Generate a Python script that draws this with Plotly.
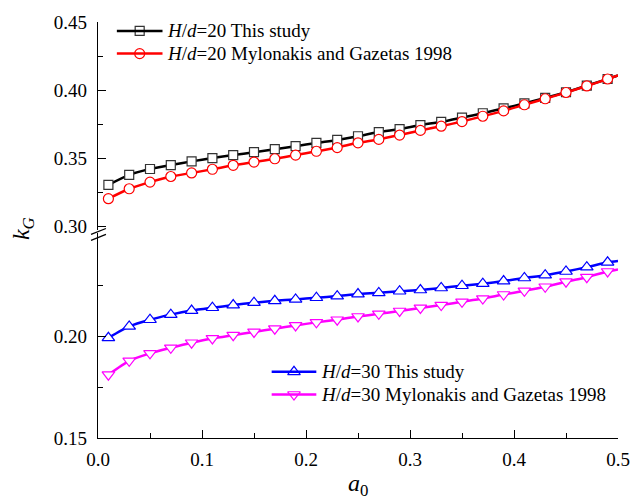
import plotly.graph_objects as go

# ---- data ----
a0 = [0.01, 0.03, 0.05, 0.07, 0.09, 0.11, 0.13, 0.15, 0.17, 0.19, 0.21, 0.23, 0.25,
      0.27, 0.29, 0.31, 0.33, 0.35, 0.37, 0.39, 0.41, 0.43, 0.45, 0.47, 0.49]
a0_end = 0.50

kg_20_study = [0.3306, 0.3379, 0.3422, 0.3451, 0.3478, 0.3502, 0.3524, 0.3545, 0.3567,
               0.3589, 0.3613, 0.3635, 0.3662, 0.3693, 0.3715, 0.3744, 0.3768, 0.3799,
               0.3831, 0.3867, 0.3903, 0.3944, 0.3985, 0.4034, 0.4082]
kg_20_study_end = 0.4109

kg_20_mg = [0.3204, 0.3277, 0.3326, 0.3367, 0.3393, 0.3420, 0.3449, 0.3473, 0.3497,
            0.3524, 0.3552, 0.3579, 0.3614, 0.3639, 0.3671, 0.3705, 0.3736, 0.3770,
            0.3809, 0.3848, 0.3893, 0.3937, 0.3983, 0.4031, 0.4082]
kg_20_mg_end = 0.4109

kg_30_study = [0.1992, 0.2048, 0.2081, 0.2106, 0.2126, 0.2140, 0.2153, 0.2165, 0.2174,
               0.2181, 0.2189, 0.2197, 0.2207, 0.2213, 0.2221, 0.2227, 0.2237, 0.2248,
               0.2258, 0.2271, 0.2286, 0.2300, 0.2318, 0.2339, 0.2363]
kg_30_study_end = 0.2370

kg_30_mg = [0.1811, 0.1879, 0.1916, 0.1943, 0.1968, 0.1989, 0.2005, 0.2021, 0.2037,
            0.2053, 0.2068, 0.2081, 0.2097, 0.2110, 0.2124, 0.2139, 0.2153, 0.2169,
            0.2185, 0.2205, 0.2223, 0.2243, 0.2268, 0.2290, 0.2318]
kg_30_mg_end = 0.2328

names = ["<i>H</i>/<i>d</i>=20 This study",
         "<i>H</i>/<i>d</i>=20 Mylonakis and Gazetas 1998",
         "<i>H</i>/<i>d</i>=30 This study",
         "<i>H</i>/<i>d</i>=30 Mylonakis and Gazetas 1998"]

x_ticks = [0.0, 0.1, 0.2, 0.3, 0.4, 0.5]
y_ticks_upper = [0.30, 0.35, 0.40, 0.45]
y_ticks_lower = [0.15, 0.20]

FONT = "Liberation Serif, Times New Roman, serif"
FS = 19

# pixel geometry helpers (plot area 98..622 x, 17..438 y)
W, H = 642, 503
L, R, T, B = 98, 20, 17, 65
PW, PH = W - L - R, H - T - B


def py(p):
    return (H - B - p) / PH


def px(p):
    return (p - L) / PW


fig = go.Figure()

series = [
    (kg_20_study, kg_20_study_end, "black", "#333333", "square", 9, "y2"),
    (kg_20_mg, kg_20_mg_end, "#ff0000", "#ff0000", "circle", 10, "y2"),
    (kg_30_study, kg_30_study_end, "#0000ff", "#0000ff", "triangle-up", 11, "y"),
    (kg_30_mg, kg_30_mg_end, "#ff00ff", "#ff00ff", "triangle-down", 11, "y"),
]

# legend placement (pixel positions): line start/end, row centre
legend_rows = [(117, 163, 26), (117, 163, 49), (273, 318, 371), (273, 318, 394)]

for (vals, vend, col, mcol, sym, sz, yax), nm, (lx0, lx1, ly) in zip(series, names, legend_rows):
    fig.add_trace(go.Scatter(
        x=a0 + [a0_end], y=vals + [vend],
        mode="lines", name=nm, yaxis=yax, showlegend=False,
        line=dict(color=col, width=2.5, shape="spline", smoothing=0.6),
    ))
    fig.add_trace(go.Scatter(
        x=a0, y=vals,
        mode="markers", name=nm, yaxis=yax, showlegend=False,
        marker=dict(symbol=sym, size=sz, color="white",
                    line=dict(color=mcol, width=1.2)),
    ))
    # manual legend entry
    fig.add_shape(type="line", xref="paper", yref="paper",
                  x0=px(lx0), x1=px(lx1), y0=py(ly), y1=py(ly),
                  line=dict(color=col, width=2.5))
    fig.add_trace(go.Scatter(
        x=[px((lx0 + lx1) / 2)], y=[py(ly)], xaxis="x2", yaxis="y3",
        mode="markers", showlegend=False, hoverinfo="skip",
        marker=dict(symbol=sym, size=sz, color="white", line=dict(color=mcol, width=1.2)),
    ))
    fig.add_annotation(text=nm, xref="paper", yref="paper",
                       x=px(lx1 + 3), y=py(ly), xanchor="left", yanchor="middle",
                       showarrow=False, font=dict(family=FONT, size=FS, color="black"))

axis_common = dict(showline=True, linecolor="black", linewidth=1.3, showgrid=False,
                   zeroline=False, ticks="inside", ticklen=8, tickwidth=1.2,
                   tickcolor="black", tickfont=dict(family=FONT, size=FS, color="black"))

upper_bottom = py(228)
lower_top = py(231)

fig.update_layout(
    width=W, height=H,
    margin=dict(l=L, r=R, t=T, b=B),
    paper_bgcolor="white", plot_bgcolor="rgba(0,0,0,0)",
    font=dict(family=FONT, size=FS, color="black"),
    showlegend=False,
    xaxis=dict(range=[0, 0.5], tickvals=x_ticks, tickformat=".1f", ticklabelstandoff=4,
               minor=dict(ticks="inside", ticklen=5, dtick=0.05, tickcolor="black", tickwidth=1.2),
               anchor="y", **axis_common),
    yaxis=dict(range=[0.15, 0.15 + (438 - 231) / 103 * 0.05], tickvals=y_ticks_lower,
               tickformat=".2f", domain=[0, lower_top], ticklabelstandoff=6,
               minor=dict(ticks="inside", ticklen=5, tickvals=[0.175, 0.225], tickcolor="black", tickwidth=1.2),
               **axis_common),
    yaxis2=dict(range=[0.45 - (228 - 17) / 69 * 0.05, 0.45], tickvals=y_ticks_upper,
                tickformat=".2f", domain=[upper_bottom, 1], anchor="x", ticklabelstandoff=6,
                minor=dict(ticks="inside", ticklen=5, tickvals=[0.325, 0.375, 0.425], tickcolor="black", tickwidth=1.2),
                **axis_common),
    # hidden overlay axes in paper fractions for legend symbols
    xaxis2=dict(domain=[0, 1], range=[0, 1], visible=False, anchor="y3", fixedrange=True),
    yaxis3=dict(domain=[0, 1], range=[0, 1], visible=False, anchor="x2", fixedrange=True),
)

# axis break marks
for dy in (0, 6):
    fig.add_shape(type="line", xref="paper", yref="paper",
                  x0=px(91), y0=py(232 + dy), x1=px(106), y1=py(226 + dy),
                  line=dict(color="black", width=1.3))

# axis titles
fig.add_annotation(text="<i>a</i><sub>0</sub>", xref="paper", yref="paper",
                   x=0.5, y=py(486), xanchor="center", yanchor="middle", showarrow=False,
                   font=dict(family=FONT, size=24, color="black"))
fig.add_annotation(text="<i>k<sub>G</sub></i>", xref="paper", yref="paper",
                   x=px(22), y=py(226), xanchor="center", yanchor="middle",
                   showarrow=False, textangle=-90,
                   font=dict(family=FONT, size=24, color="black"))

fig.write_html("out.html")
